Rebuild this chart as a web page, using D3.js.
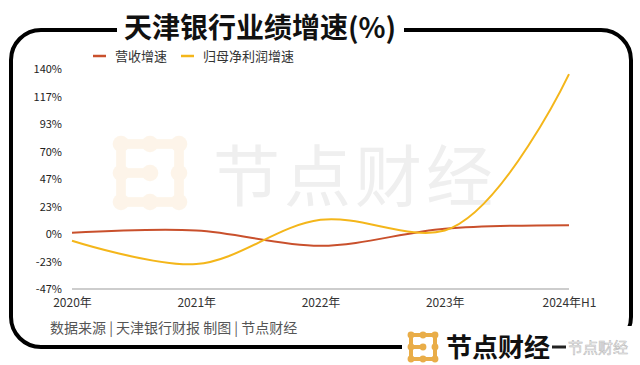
<!DOCTYPE html>
<html>
<head>
<meta charset="utf-8">
<script src="https://cdn.jsdelivr.net/npm/d3@7"></script>
<style>
  html, body { margin: 0; padding: 0; background: #fff; }
  svg { display: block; font-family: "Noto Sans CJK SC", "Noto Sans", sans-serif; }
</style>
</head>
<body>
<svg id="chart" width="640" height="365"></svg>
<script>
// data
const years = ["2020年", "2021年", "2022年", "2023年", "2024年H1"];
const revenueGrowth = [1.0, 3.0, -10.0, 4.5, 7.5];     // 营收增速
const profitGrowth = [-5.7, -25.5, 12.0, 3.0, 135.7];  // 归母净利润增速
const yTicks = [-46.67, -23.33, 0, 23.33, 46.67, 70, 93.33, 116.67, 140];
const seriesNames = ["营收增速", "归母净利润增速"];
const seriesColors = ["#c9502c", "#f4b61a"];

const svg = d3.select("#chart");

const x = d3.scalePoint(years, [72, 569]);
const y = d3.scaleLinear([yTicks[0], yTicks[yTicks.length - 1]], [289, 69]);

// watermark
const wm = svg.append("g").attr("class", "watermark");
wm.append("text")
  .attr("x", 213).attr("y", 201)
  .attr("font-size", 67)
  .attr("fill", "#efefef")
  .attr("letter-spacing", 4)
  .text("节点财经");

function drawLogo(g, cx, cy, size, color, opacity) {
  // 3x3 dot grid with bars, roughly the brand mark
  const step = size / 2;
  const grp = g.append("g").attr("opacity", opacity);
  const pts = [];
  for (let i = 0; i < 3; i++) for (let j = 0; j < 3; j++) pts.push([cx + (j - 1) * step, cy + (i - 1) * step]);
  const bars = [[0, 1], [1, 2], [0, 3], [3, 6], [6, 7], [7, 8], [2, 5], [5, 8], [3, 4]];
  bars.forEach(([a, b]) => {
    grp.append("line")
      .attr("x1", pts[a][0]).attr("y1", pts[a][1])
      .attr("x2", pts[b][0]).attr("y2", pts[b][1])
      .attr("stroke", color).attr("stroke-width", size / 6);
  });
  pts.forEach(p => {
    grp.append("circle").attr("cx", p[0]).attr("cy", p[1]).attr("r", size / 7).attr("fill", color);
  });
}
drawLogo(wm, 150, 173, 58, "#f3c27a", 0.16);

// frame
svg.append("rect")
  .attr("x", 11).attr("y", 30)
  .attr("width", 620).attr("height", 317)
  .attr("rx", 30)
  .attr("fill", "none")
  .attr("stroke", "#000")
  .attr("stroke-width", 4);

// gaps in the frame for title and logo
svg.append("rect").attr("x", 117).attr("y", 8).attr("width", 287).attr("height", 36).attr("fill", "#fff");
svg.append("rect").attr("x", 402).attr("y", 326).attr("width", 238).attr("height", 39).attr("fill", "#fff");

svg.append("text")
  .attr("x", 260).attr("y", 38)
  .attr("text-anchor", "middle")
  .attr("font-size", 28)
  .attr("font-weight", "bold")
  .attr("fill", "#111")
  .text("天津银行业绩增速(%)");

// legend
const legend = svg.append("g").attr("font-size", 13).attr("fill", "#333");
[[93, 115], [181, 203]].forEach(([lx, tx], i) => {
  legend.append("line")
    .attr("x1", lx).attr("x2", lx + 13)
    .attr("y1", 56).attr("y2", 56)
    .attr("stroke", seriesColors[i]).attr("stroke-width", 2.5);
  legend.append("text")
    .attr("x", tx).attr("y", 61)
    .text(seriesNames[i]);
});

// y axis labels
const yAxis = svg.append("g")
  .attr("transform", "translate(62,0)")
  .call(d3.axisLeft(y).tickValues(yTicks).tickSize(0).tickPadding(0)
    .tickFormat(d => Math.round(d) + "%"));
yAxis.select(".domain").remove();
yAxis.selectAll("text").attr("font-size", 11).attr("fill", "#222")
  .attr("font-family", "'Noto Sans CJK SC', sans-serif");

// baseline
svg.append("line")
  .attr("x1", x(years[0])).attr("x2", x(years[years.length - 1]))
  .attr("y1", y(yTicks[0])).attr("y2", y(yTicks[0]))
  .attr("stroke", "#bdbdbd").attr("stroke-width", 1.5);

// x axis labels
const xAxis = svg.append("g")
  .attr("transform", `translate(0,${y(yTicks[0])})`)
  .call(d3.axisBottom(x).tickSize(0).tickPadding(9));
xAxis.select(".domain").remove();
xAxis.selectAll("text").attr("font-size", 12).attr("fill", "#333")
  .attr("font-family", "'Noto Sans CJK SC', sans-serif");

// lines
const line = d3.line()
  .x((d, i) => x(years[i]))
  .y(d => y(d))
  .curve(d3.curveCatmullRom.alpha(1));

[revenueGrowth, profitGrowth].forEach((vals, i) => {
  svg.append("path")
    .datum(vals)
    .attr("d", line)
    .attr("fill", "none")
    .attr("stroke", seriesColors[i])
    .attr("stroke-width", 2);
});

// source note
svg.append("text")
  .attr("x", 50).attr("y", 333)
  .attr("font-size", 14)
  .attr("fill", "#555")
  .text("数据来源 | 天津银行财报  制图 | 节点财经");

// bottom brand
drawLogo(svg, 423, 347, 24, "#e9ad48", 1);
svg.append("text")
  .attr("x", 446).attr("y", 357)
  .attr("font-size", 26)
  .attr("font-weight", "bold")
  .attr("fill", "#111")
  .text("节点财经");
svg.append("line")
  .attr("x1", 552).attr("x2", 566).attr("y1", 347).attr("y2", 347)
  .attr("stroke", "#222").attr("stroke-width", 3);
svg.append("text")
  .attr("x", 568).attr("y", 353)
  .attr("font-size", 15)
  .attr("fill", "#fff").attr("stroke", "#bbb").attr("stroke-width", 0.6)
  .text("节点财经");
</script>
</body>
</html>
